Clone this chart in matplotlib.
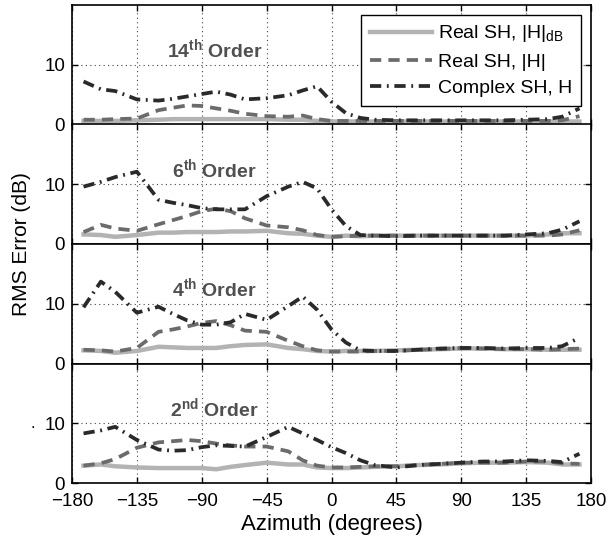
import matplotlib
matplotlib.use("Agg")
import matplotlib.pyplot as plt

plt.rcParams['font.family'] = ['Liberation Sans', 'DejaVu Sans']
plt.rcParams['mathtext.fontset'] = 'custom'
plt.rcParams['mathtext.rm'] = 'Liberation Sans'
plt.rcParams['mathtext.bf'] = 'Liberation Sans:bold'
plt.rcParams['mathtext.it'] = 'Liberation Sans:italic'
plt.rcParams['mathtext.sf'] = 'Liberation Sans'

azimuth = [-172, -160, -150, -135, -120, -110, -100, -90, -80, -70, -60, -45, -30, -20, -10,
           0, 10, 20, 30, 45, 60, 75, 90, 105, 120, 135, 150, 160, 172]

orders = ["14", "6", "4", "2"]
order_sup = ["th", "th", "th", "nd"]

# 14th order
o14_real_db = [0.6, 0.6, 0.6, 0.7, 0.8, 0.9, 0.9, 0.9, 0.9, 0.9, 0.9, 0.9, 0.8, 0.8, 0.6,
               0.5, 0.5, 0.5, 0.5, 0.5, 0.5, 0.5, 0.5, 0.5, 0.5, 0.5, 0.5, 0.5, 0.5]
o14_real_mag = [0.8, 0.8, 0.9, 1.0, 2.4, 2.8, 3.2, 3.1, 2.7, 2.3, 1.8, 1.4, 1.3, 1.5, 0.9,
                0.6, 0.6, 0.6, 0.6, 0.6, 0.6, 0.6, 0.6, 0.6, 0.6, 0.6, 0.6, 0.7, 1.4]
o14_complex = [7.2, 5.9, 5.6, 4.2, 4.0, 4.3, 4.7, 5.1, 5.5, 5.0, 4.2, 4.4, 4.9, 5.7, 6.4,
               3.8, 1.9, 1.1, 0.8, 0.7, 0.7, 0.7, 0.7, 0.7, 0.7, 0.8, 0.9, 1.3, 2.7]

# 6th order
o6_real_db = [1.6, 1.5, 1.2, 1.5, 1.9, 1.9, 2.0, 2.0, 2.0, 2.1, 2.1, 2.2, 1.8, 1.7, 1.4,
              1.2, 1.4, 1.3, 1.4, 1.4, 1.4, 1.4, 1.4, 1.4, 1.4, 1.4, 1.6, 1.8, 1.8]
o6_real_mag = [2.0, 3.2, 2.6, 2.2, 3.3, 4.0, 4.7, 5.5, 5.9, 5.5, 4.3, 3.1, 2.8, 2.3, 1.5,
               1.2, 1.3, 1.4, 1.4, 1.4, 1.4, 1.4, 1.4, 1.4, 1.4, 1.4, 1.4, 1.6, 2.3]
o6_complex = [9.6, 10.4, 11.2, 12.1, 7.4, 6.9, 6.5, 6.0, 5.8, 5.8, 5.8, 8.0, 9.6, 10.4, 9.3,
              5.8, 3.0, 1.5, 1.4, 1.3, 1.4, 1.4, 1.4, 1.4, 1.4, 1.6, 1.8, 2.4, 3.8]

# 4th order
o4_real_db = [2.2, 2.1, 1.8, 2.1, 2.8, 2.7, 2.6, 2.6, 2.6, 2.9, 3.1, 3.2, 2.6, 2.4, 2.1,
              2.0, 2.1, 2.1, 2.1, 2.2, 2.3, 2.4, 2.5, 2.5, 2.4, 2.4, 2.3, 2.3, 2.3]
o4_real_mag = [2.3, 2.2, 2.0, 2.6, 5.3, 5.7, 6.2, 6.8, 7.1, 6.4, 5.5, 5.3, 3.8, 2.9, 2.2,
               2.0, 2.0, 2.0, 2.1, 2.1, 2.3, 2.4, 2.6, 2.5, 2.4, 2.4, 2.3, 2.4, 2.5]
o4_complex = [9.4, 13.7, 12.0, 8.5, 9.5, 8.3, 7.2, 6.5, 6.5, 6.9, 8.3, 7.3, 9.6, 11.2, 9.0,
              5.7, 3.5, 2.2, 2.1, 2.1, 2.3, 2.5, 2.6, 2.6, 2.5, 2.6, 2.6, 2.9, 4.3]

# 2nd order
o2_real_db = [2.9, 3.1, 2.8, 2.6, 2.5, 2.5, 2.5, 2.5, 2.3, 2.7, 3.0, 3.4, 3.1, 3.1, 2.6,
              2.5, 2.5, 2.6, 2.7, 2.8, 3.0, 3.1, 3.3, 3.4, 3.4, 3.5, 3.4, 3.1, 3.1]
o2_real_mag = [2.9, 3.3, 4.0, 5.9, 6.8, 7.0, 7.2, 7.0, 6.6, 6.3, 6.1, 6.1, 5.3, 3.8, 2.9,
               2.6, 2.6, 2.7, 2.8, 2.8, 3.0, 3.2, 3.4, 3.4, 3.4, 3.6, 3.6, 3.3, 3.2]
o2_complex = [8.3, 8.8, 9.4, 7.2, 5.6, 5.4, 5.5, 6.0, 6.3, 6.2, 6.1, 7.7, 9.4, 8.3, 7.2,
              6.0, 5.0, 3.8, 3.0, 2.6, 3.0, 3.2, 3.4, 3.6, 3.6, 3.8, 3.7, 3.5, 4.9]

panels = [
    (o14_real_db, o14_real_mag, o14_complex),
    (o6_real_db, o6_real_mag, o6_complex),
    (o4_real_db, o4_real_mag, o4_complex),
    (o2_real_db, o2_real_mag, o2_complex),
]

legend_labels = [r"Real SH, |H|$_{\mathrm{dB}}$", "Real SH, |H|", "Complex SH, H"]
xticks = [-180, -135, -90, -45, 0, 45, 90, 135, 180]
yticks = [0, 10]

W, H = 609, 541
fig = plt.figure(figsize=(W / 100, H / 100), dpi=100)

left = 72 / W
right = 591 / W
top_px = 5
bot_px = 483
ph = (bot_px - top_px) / 4

c_solid = "#b3b3b3"
c_dash = "#6b6b6b"
c_dd = "#2a2a2a"

axes = []
for i, (s_db, s_mag, s_cx) in enumerate(panels):
    y_top = top_px + i * ph
    ax = fig.add_axes([left, 1 - (y_top + ph) / H, right - left, ph / H])
    axes.append(ax)
    l1, = ax.plot(azimuth, s_db, color=c_solid, lw=3.2, solid_joinstyle='round', zorder=3)
    l2, = ax.plot(azimuth, s_mag, color=c_dash, lw=2.7, dashes=[3.0, 1.9], zorder=4)
    l3, = ax.plot(azimuth, s_cx, color=c_dd, lw=2.7, dashes=[3.0, 1.5, 0.5, 1.5], zorder=5)
    ax.set_xlim(-180, 180)
    ax.set_ylim(0, 20)
    ax.set_xticks(xticks)
    ax.set_yticks(yticks)
    ax.grid(True, linestyle=(0, (1, 3)), color="#444444", lw=0.8)
    ax.tick_params(direction='in', top=True, right=True, length=4.5, width=1.0,
                   labelsize=13.5, pad=5)
    for sp in ax.spines.values():
        sp.set_linewidth(1.2)
    if i < 3:
        ax.tick_params(labelbottom=False)
    else:
        ax.set_xticklabels([str(v).replace('-', '\u2212') for v in xticks])
        ax.tick_params(axis='x', pad=7)
    ax.text(-81, 12.6, orders[i] + r"$^{\mathbf{" + order_sup[i] + r"}}$ Order",
            ha='center', va='center', fontsize=14, fontweight='bold', color="#505050",
            zorder=6)
    if i == 0:
        leg = ax.legend([l1, l2, l3], legend_labels, loc='upper right', fontsize=14,
                        frameon=True, fancybox=False, edgecolor='black', framealpha=1,
                        handlelength=3.2, handletextpad=0.3, labelspacing=0.45,
                        borderpad=0.45, borderaxespad=0.5)
        leg.get_frame().set_linewidth(1.0)

axes[-1].set_xlabel("Azimuth (degrees)", fontsize=16, labelpad=3)
fig.text(22 / W, 1 - 244 / H, "RMS Error (dB)", rotation=90, ha='center', va='center',
         fontsize=15)
fig.text(33 / W, 1 - 424 / H, ".", ha='center', va='center', fontsize=12)

fig.savefig("out.png", dpi=100)
